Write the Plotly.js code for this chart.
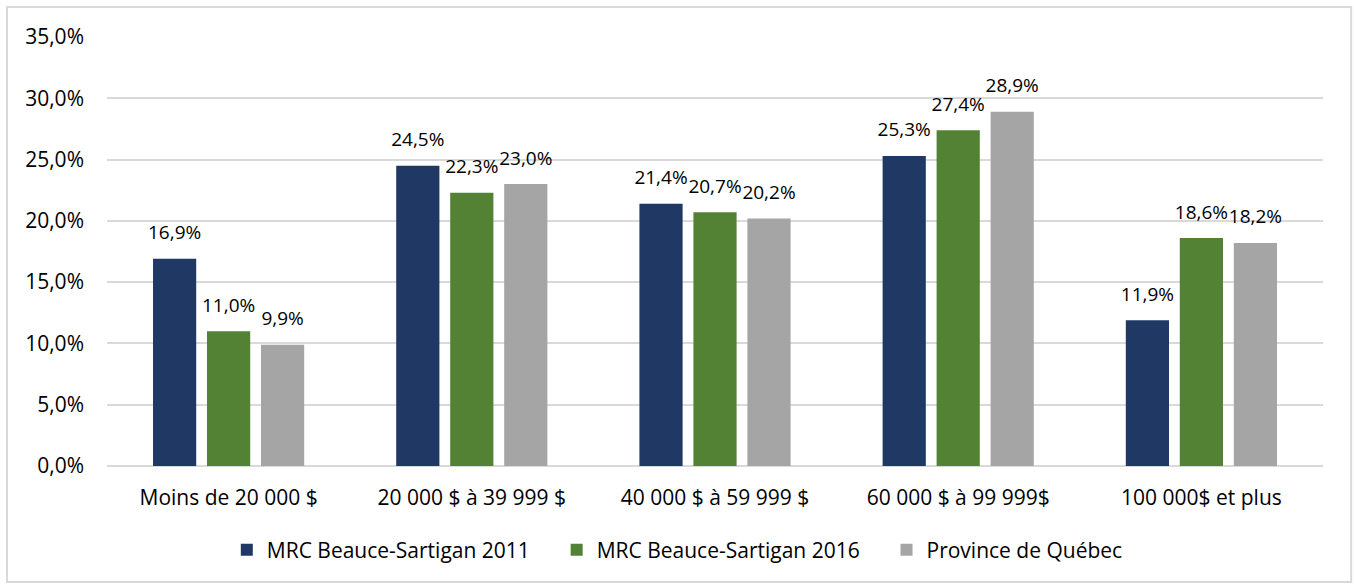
<!DOCTYPE html>
<html><head><meta charset="utf-8">
<script src="https://cdn.plot.ly/plotly-3.0.1.min.js"></script>
<style>html,body{margin:0;padding:0;background:#fff}#c{width:1354px;height:584px}</style>
</head><body><div id="c"></div>
<script>
const categories = ["Moins de 20 000 $", "20 000 $ à 39 999 $", "40 000 $ à 59 999 $", "60 000 $ à 99 999$", "100 000$ et plus"];
const seriesNames = ["MRC Beauce-Sartigan 2011", "MRC Beauce-Sartigan 2016", "Province de Québec"];
const mrc2011 = [16.9, 24.5, 21.4, 25.3, 11.9];
const mrc2016 = [11.0, 22.3, 20.7, 27.4, 18.6];
const quebec = [9.9, 23.0, 20.2, 28.9, 18.2];
const colors = ["#203864", "#548235", "#A5A5A5"];
const FONT = "'Open Sans', sans-serif";
const fmt = v => v.toFixed(1).replace('.', ',') + '%';
const pads = ['\u00a0\u00a0\u00a0\u00a0', '\u00a0\u00a0\u00a0\u00a0', ''];
const series = [mrc2011, mrc2016, quebec];
const bars = series.map((vals, i) => ({
  type: 'bar', name: seriesNames[i] + pads[i], x: categories, y: vals,
  marker: {color: colors[i]}, hoverinfo: 'none'
}));
const labels = series.map((vals, i) => ({
  type: 'scatter', mode: 'markers+text', x: categories, y: vals, showlegend: false,
  marker: {size: 22, color: 'rgba(0,0,0,0)'},
  text: vals.map(fmt), textposition: 'top center', cliponaxis: false,
  textfont: {family: FONT, size: 19, color: '#000'}, hoverinfo: 'none'
}));
const layout = {
  width: 1354, height: 584,
  margin: {l: 107, r: 31, t: 37, b: 118},
  paper_bgcolor: '#fff', plot_bgcolor: '#fff',
  separators: ', ',
  barmode: 'group', bargap: 0.334, bargroupgap: 0.2,
  scattermode: 'group', scattergap: 0.334,
  font: {family: FONT, size: 21, color: '#000'},
  xaxis: {showgrid: false, zeroline: false, showline: false, ticks: '',
          ticklabelstandoff: 17, tickfont: {family: FONT, size: 21, color: '#000'}},
  yaxis: {range: [0, 35], dtick: 5, tickformat: '.1f', ticksuffix: '%',
          showgrid: true, gridcolor: '#D9D9D9', gridwidth: 2, zeroline: true,
          zerolinecolor: '#D9D9D9', zerolinewidth: 2, showline: false, ticks: '',
          ticklabelstandoff: 22, tickfont: {family: FONT, size: 21, color: '#000'}},
  showlegend: true,
  legend: {orientation: 'h', x: 0.469, xanchor: 'center', y: -0.196, yanchor: 'middle',
           font: {family: FONT, size: 21, color: '#000'}, itemwidth: 30, tracegroupgap: 0},
  shapes: [{type: 'rect', xref: 'paper', yref: 'paper', x0: -0.0822, x1: 1.0232, y0: -0.2704, y1: 1.0699,
            line: {color: '#D9D9D9', width: 2}, fillcolor: 'rgba(0,0,0,0)', layer: 'below'}]
};
Plotly.newPlot('c', bars.concat(labels), layout, {staticPlot: true, displayModeBar: false});
</script></body></html>
